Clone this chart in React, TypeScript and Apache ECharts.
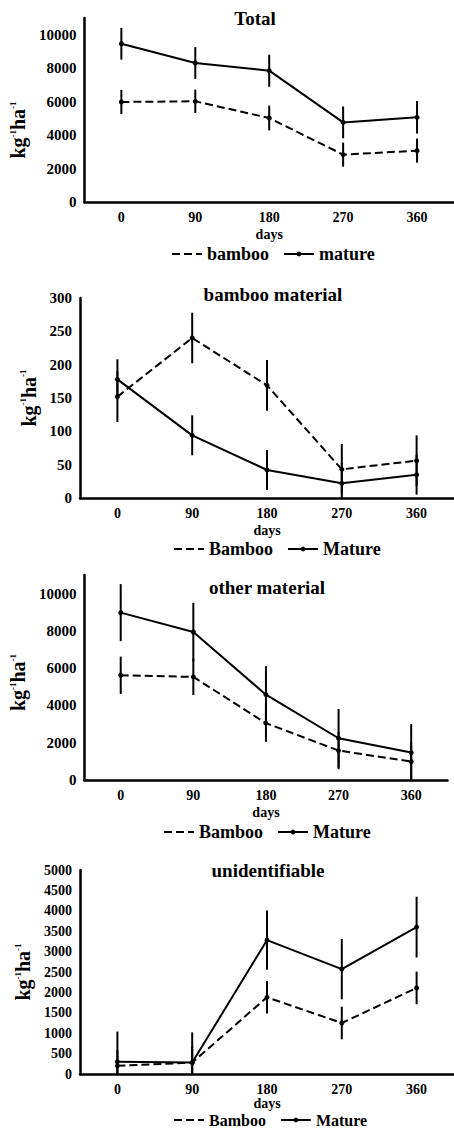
import React, { useEffect, useRef } from "react";
import * as echarts from "echarts";

const days = ["0", "90", "180", "270", "360"];

const totalBamboo = [5980, 6020, 5020, 2830, 3070];
const totalBambooErr = [720, 700, 740, 720, 720];
const totalMature = [9460, 8310, 7850, 4760, 5060];
const totalMatureErr = [950, 950, 960, 950, 970];

const bmBamboo = [152, 240, 169, 43, 56];
const bmBambooErr = [38, 38, 38, 38, 38];
const bmMature = [178, 94, 42, 22, 35];
const bmMatureErr = [30, 30, 30, 30, 30];

const omBamboo = [5620, 5530, 3050, 1580, 990];
const omBambooErr = [1000, 970, 1000, 1000, 1000];
const omMature = [8980, 7940, 4580, 2240, 1470];
const omMatureErr = [1530, 1570, 1530, 1570, 1530];

const unBamboo = [200, 280, 1880, 1250, 2110];
const unBambooErr = [390, 400, 400, 400, 400];
const unMature = [300, 280, 3280, 2570, 3600];
const unMatureErr = [740, 740, 725, 740, 745];

const titles = ["Total", "bamboo material", "other material", "unidentifiable"];
const legendNames = [
  ["bamboo", "mature"],
  ["Bamboo", "Mature"],
  ["Bamboo", "Mature"],
  ["Bamboo", "Mature"],
];

const FONT = "'Liberation Serif', 'Times New Roman', serif";

const panels = [
  { b: totalBamboo, be: totalBambooErr, m: totalMature, me: totalMatureErr, max: 11000, interval: 2000, hideMax: true,
    grid: { left: 80, top: 18, width: 382.5, height: 184 }, title: [255, 18], legend: [166, 240], namePad: [0, 40, 0, 0], labelSize: 15, daysGap: 25, legendSize: 18 },
  { b: bmBamboo, be: bmBambooErr, m: bmMature, me: bmMatureErr, max: 300, interval: 50, hideMax: false,
    grid: { left: 80, top: 298, width: 382.5, height: 200 }, title: [273, 294], legend: [168, 535], namePad: [0, 0, 0, 0], labelSize: 15, daysGap: 25, legendSize: 18 },
  { b: omBamboo, be: omBambooErr, m: omMature, me: omMatureErr, max: 11000, interval: 2000, hideMax: true,
    grid: { left: 80, top: 575, width: 367.5, height: 205 }, title: [267, 587], legend: [158, 818], namePad: [0, 10, 0, 0], labelSize: 15, daysGap: 25, legendSize: 18 },
  { b: unBamboo, be: unBambooErr, m: unMature, me: unMatureErr, max: 5000, interval: 500, hideMax: false,
    grid: { left: 80, top: 870, width: 382.5, height: 204 }, title: [268, 870], legend: [168, 1107], namePad: [0, 0, 0, 0], labelSize: 14, daysGap: 20, legendSize: 16 },
];

function errRender(params: any, api: any) {
  const x = api.value(0);
  const v = api.value(1);
  const e = api.value(2);
  const top = api.coord([x, v + e]);
  const bot = api.coord([x, Math.max(0, v - e)]);
  return {
    type: "line",
    shape: { x1: top[0], y1: top[1], x2: bot[0], y2: bot[1] },
    style: { stroke: "#000", lineWidth: 2 },
  };
}

export default function App() {
  const ref = useRef<HTMLDivElement>(null);
  useEffect(() => {
    if (!ref.current) return;
    const chart = echarts.init(ref.current, null, { renderer: "svg" });
    const grids: any[] = [];
    const xAxes: any[] = [];
    const yAxes: any[] = [];
    const series: any[] = [];
    const legends: any[] = [];
    const graphics: any[] = [];
    panels.forEach((p, i) => {
      grids.push({ ...p.grid, containLabel: false });
      xAxes.push({
        type: "category",
        gridIndex: i,
        data: days,
        boundaryGap: true,
        axisLine: { lineStyle: { color: "#000", width: 2.5 } },
        axisTick: { show: false },
        axisLabel: { color: "#000", fontFamily: FONT, fontWeight: "bold", fontSize: 14, margin: 8 },
        name: "days",
        nameLocation: "middle",
        nameGap: p.daysGap,
        nameTextStyle: { color: "#000", fontFamily: FONT, fontWeight: "bold", fontSize: 14 },
      });
      yAxes.push({
        type: "value",
        gridIndex: i,
        min: 0,
        max: p.max,
        interval: p.interval,
        axisLine: { show: true, lineStyle: { color: "#000", width: 2.5 } },
        axisTick: { show: false },
        splitLine: { show: false },
        axisLabel: {
          color: "#000", fontFamily: FONT, fontWeight: "bold", fontSize: p.labelSize, margin: 8,
          showMaxLabel: !p.hideMax,
          formatter: (v: number) => String(v),
        },
        name: "{b|kg}{s|-1}{b|ha}{s|-1}",
        nameLocation: "middle",
        nameRotate: 90,
        nameGap: 37,
        nameTextStyle: {
          padding: p.namePad,
          rich: {
            b: { fontFamily: FONT, fontWeight: "bold", fontSize: 20, color: "#000" },
            s: { fontFamily: FONT, fontWeight: "bold", fontSize: 9, color: "#000", verticalAlign: "top" },
          },
        },
      });
      const [bn, mn] = legendNames[i];
      series.push({
        type: "line", name: bn, xAxisIndex: i, yAxisIndex: i, data: p.b,
        symbol: "circle", symbolSize: 5, itemStyle: { color: "#000" },
        lineStyle: { color: "#000", width: 2, type: [8, 4] }, z: 3,
      });
      series.push({
        type: "line", name: mn, xAxisIndex: i, yAxisIndex: i, data: p.m,
        symbol: "circle", symbolSize: 5, itemStyle: { color: "#000" },
        lineStyle: { color: "#000", width: 2, type: "solid" }, z: 3,
      });
      series.push({
        type: "custom", name: "errB" + i, xAxisIndex: i, yAxisIndex: i,
        data: p.b.map((v, k) => [k, v, p.be[k]]), renderItem: errRender, z: 2,
      });
      series.push({
        type: "custom", name: "errM" + i, xAxisIndex: i, yAxisIndex: i,
        data: p.m.map((v, k) => [k, v, p.me[k]]), renderItem: errRender, z: 2,
      });
      legends.push({
        left: p.legend[0], top: p.legend[1],
        data: [{ name: bn, itemStyle: { opacity: 0 } }, { name: mn }],
        itemWidth: 30, itemHeight: 6, itemGap: 14,
        textStyle: { color: "#000", fontFamily: FONT, fontWeight: "bold", fontSize: p.legendSize },
        selectedMode: false,
      });
      graphics.push({
        type: "text", x: p.title[0], y: p.title[1],
        style: { text: titles[i], fill: "#000", font: `bold 19px ${FONT}`, textAlign: "center", textVerticalAlign: "middle" },
      });
    });
    chart.setOption({
      animation: false,
      backgroundColor: "#fff",
      grid: grids,
      xAxis: xAxes,
      yAxis: yAxes,
      series,
      legend: legends,
      graphic: graphics,
    });
    return () => chart.dispose();
  }, []);
  return (
    <div
      ref={ref}
      style={{ position: "absolute", left: 0, top: 0, width: 454, height: 1131 }}
    />
  );
}
